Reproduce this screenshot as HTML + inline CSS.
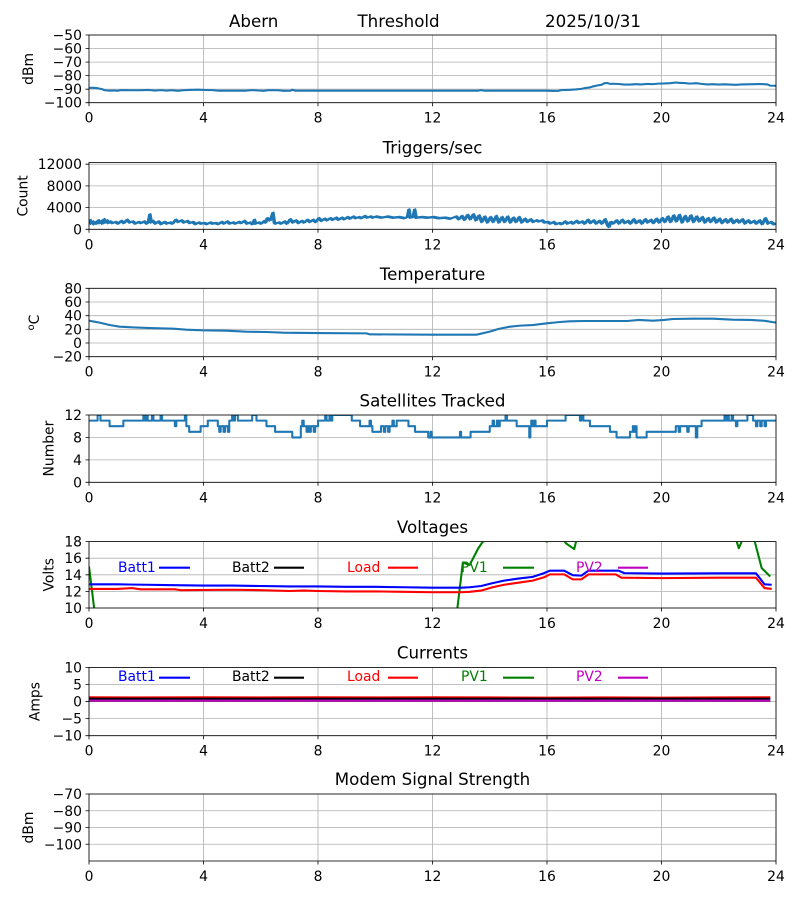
<!DOCTYPE html>
<html><head><meta charset="utf-8"><style>
html,body{margin:0;padding:0;background:#fff;}
svg{display:block;}
text{font-family:"DejaVu Sans","Liberation Sans",sans-serif;font-size:13.9px;fill:#000;}
.t{font-size:16.67px;}
.yl text{text-anchor:end;}
.xl text{text-anchor:middle;}
.g{stroke:#b0b0b0;stroke-width:0.8;fill:none;}
.sp{stroke:#000;stroke-width:0.8;fill:none;}
.s{fill:none;stroke-width:2.08;stroke-linejoin:round;}
</style></head><body>
<svg width="800" height="900" viewBox="0 0 800 900" xmlns="http://www.w3.org/2000/svg" xmlns:xlink="http://www.w3.org/1999/xlink">
<defs>
<clipPath id="c1"><rect x="89" y="35" width="687" height="67.7"/></clipPath>
<clipPath id="c2"><rect x="89" y="162.5" width="687" height="66.8"/></clipPath>
<clipPath id="c3"><rect x="89" y="288.3" width="687" height="68.4"/></clipPath>
<clipPath id="c4"><rect x="89" y="415" width="687" height="67.3"/></clipPath>
<clipPath id="c5"><rect x="89" y="541.6" width="687" height="66.4"/></clipPath>
<clipPath id="c6"><rect x="89" y="667.4" width="687" height="68.3"/></clipPath>
</defs>
<rect width="800" height="900" fill="#fff"/>

<!-- Main title -->
<text class="t" x="229" y="27">Abern</text>
<text class="t" x="357.5" y="27">Threshold</text>
<text class="t" x="545" y="27">2025/10/31</text>

<!-- ================= Panel 1 ================= -->
<path class="g" d="M89 35V102.7M203.5 35V102.7M318 35V102.7M432.5 35V102.7M547 35V102.7M661.5 35V102.7M776 35V102.7M89 35H776M89 48.5H776M89 62.1H776M89 75.6H776M89 89.2H776M89 102.7H776"/>
<g clip-path="url(#c1)"><g transform="matrix(28.625 0 0 -1.354 89 -32.7)">
<polyline class="s" stroke="#1f77b4" vector-effect="non-scaling-stroke" points="0,-89 0.15,-89 0.3,-89.3 0.45,-90 0.55,-90.8 0.7,-91.1 0.9,-91 1.0,-91.2 1.1,-90.7 1.4,-90.8 1.8,-90.8 2.1,-90.6 2.3,-91.1 2.5,-90.7 2.7,-91.1 2.9,-90.8 3.1,-91.2 3.3,-90.8 3.5,-90.6 3.8,-90.4 4,-90.6 4.3,-90.7 4.5,-91.1 5,-91.1 5.5,-91.1 5.7,-90.7 5.9,-91 6.1,-91.2 6.3,-90.7 6.6,-90.8 6.8,-91.2 7.05,-91.1 7.1,-90.4 7.2,-91.1 8,-91.1 9,-91.1 10,-91.1 11,-91.1 12,-91.1 13,-91.1 13.6,-91.1 13.7,-90.7 13.8,-91.1 15,-91.1 16,-91.1 16.2,-91.3 16.4,-91.2 16.5,-90.7 16.8,-90.5 17,-90.2 17.2,-89.8 17.3,-89.3 17.5,-88.7 17.6,-88 17.8,-87.1 17.9,-86.8 18.0,-85.7 18.1,-85.4 18.2,-86.1 18.3,-86 18.5,-86.2 18.7,-86.6 18.9,-86.6 19.1,-86.3 19.3,-86.5 19.5,-86.1 19.7,-86.3 19.9,-85.9 20.1,-85.8 20.3,-85.6 20.5,-85.1 20.6,-85.3 20.8,-85.5 21.0,-85.9 21.2,-85.6 21.4,-86.1 21.6,-86.5 21.8,-86.3 22.0,-86.6 22.2,-86.4 22.4,-86.6 22.6,-86.8 22.8,-86.5 23.0,-86.4 23.2,-86.3 23.5,-86.2 23.7,-86.5 23.8,-87.4 24,-87.5"/>
</g></g>
<rect class="sp" x="89" y="35" width="687" height="67.7"/>
<path class="sp" d="M85.5 35H89M85.5 48.5H89M85.5 62.1H89M85.5 75.6H89M85.5 89.2H89M85.5 102.7H89M89 102.7V106.2M203.5 102.7V106.2M318 102.7V106.2M432.5 102.7V106.2M547 102.7V106.2M661.5 102.7V106.2M776 102.7V106.2"/>
<g class="yl"><text x="82" y="40">−50</text><text x="82" y="53.5">−60</text><text x="82" y="67.1">−70</text><text x="82" y="80.6">−80</text><text x="82" y="94.2">−90</text><text x="82" y="107.7">−100</text></g>
<g class="xl"><text x="89" y="122.7">0</text><text x="203.5" y="122.7">4</text><text x="318" y="122.7">8</text><text x="432.5" y="122.7">12</text><text x="547" y="122.7">16</text><text x="661.5" y="122.7">20</text><text x="776" y="122.7">24</text></g>
<text transform="translate(33 68.9) rotate(-90)" text-anchor="middle">dBm</text>

<!-- ================= Panel 2 ================= -->
<text class="t" x="432.5" y="153.3" text-anchor="middle">Triggers/sec</text>
<path class="g" d="M89 162.5V229.3M203.5 162.5V229.3M318 162.5V229.3M432.5 162.5V229.3M547 162.5V229.3M661.5 162.5V229.3M776 162.5V229.3M89 229.3H776M89 207.6H776M89 185.9H776M89 164.2H776"/>
<g clip-path="url(#c2)"><g transform="matrix(28.625 0 0 -5.425 89 229.3)">
<polyline id="trg" class="s" stroke="#1f77b4" stroke-width="1.8" vector-effect="non-scaling-stroke" points="0,1.8 0.05,1.0 0.1,1.4 0.15,0.9 0.2,1.3 0.25,1.0 0.3,1.6 0.35,1.1 0.4,1.5 0.45,1.0 0.5,1.8 0.55,1.2 0.6,1.6 0.65,1.1 0.7,1.4 0.8,1.1 0.9,1.3 1.0,1.0 1.1,1.5 1.2,1.1 1.3,1.7 1.4,1.2 1.5,1.4 1.6,1.0 1.7,1.3 1.8,1.1 1.9,1.4 2.0,1.0 2.05,1.3 2.1,2.7 2.15,1.2 2.2,1.5 2.3,1.0 2.4,1.4 2.5,0.9 2.6,1.3 2.7,1.0 2.8,1.2 2.9,1.0 3.0,1.7 3.1,1.3 3.2,1.6 3.3,1.2 3.4,1.5 3.5,1.1 3.6,1.3 3.7,0.9 3.8,1.2 3.9,1.0 4.0,1.1 4.1,0.9 4.2,1.2 4.3,1.0 4.4,1.1 4.5,0.9 4.6,1.3 4.7,1.0 4.8,1.4 4.9,1.0 5.0,1.2 5.1,1.0 5.2,1.3 5.3,1.1 5.4,1.5 5.5,1.0 5.6,1.2 5.7,0.9 5.75,1.7 5.8,1.0 5.9,1.2 6.0,1.0 6.1,1.5 6.15,1.2 6.2,2.0 6.3,1.6 6.35,2.2 6.4,3.0 6.45,1.2 6.5,1.0 6.6,1.2 6.7,1.0 6.8,1.4 6.9,1.0 7.0,1.8 7.1,1.2 7.2,1.6 7.3,1.1 7.4,1.5 7.5,1.2 7.6,1.7 7.7,1.3 7.8,1.7 7.9,1.3 8.0,2.0 8.1,1.5 8.2,1.9 8.3,1.6 8.4,2.0 8.5,1.7 8.6,2.1 8.7,1.7 8.8,2.1 8.9,1.8 9.0,2.2 9.1,1.9 9.2,2.3 9.3,2.0 9.4,2.2 9.5,2.0 9.6,2.4 9.7,2.1 9.8,2.3 9.9,2.1 10.0,2.3 10.2,2.1 10.4,2.3 10.6,2.1 10.8,2.2 11.0,2.0 11.1,2.2 11.15,3.6 11.2,2.1 11.3,2.2 11.35,3.6 11.4,2.1 11.6,2.2 11.8,2.1 12.0,2.2 12.2,2.0 12.4,2.1 12.6,1.9 12.8,2.3 12.9,1.8 13.0,2.4 13.1,1.7 13.2,2.6 13.3,1.8 13.4,2.7 13.5,1.6 13.6,2.5 13.7,1.3 13.8,2.3 13.9,1.2 14.0,2.2 14.1,1.3 14.2,2.4 14.3,1.2 14.4,2.2 14.5,1.3 14.6,2.3 14.7,1.2 14.8,2.1 14.9,1.3 15.0,2.2 15.1,1.2 15.2,1.9 15.3,1.3 15.4,1.8 15.5,1.3 15.6,1.6 15.7,1.4 15.8,1.6 15.9,1.2 16.0,1.3 16.1,1.0 16.2,1.3 16.3,0.9 16.4,1.1 16.5,0.9 16.6,1.4 16.7,1.0 16.8,1.3 16.9,1.0 17.0,1.5 17.1,1.1 17.2,1.4 17.3,1.0 17.4,1.7 17.5,1.1 17.6,1.6 17.7,1.0 17.8,1.5 17.9,1.0 18.0,1.8 18.1,0.7 18.15,0.4 18.2,1.3 18.3,1.0 18.4,1.6 18.5,1.0 18.6,1.7 18.7,1.1 18.8,1.5 18.9,1.0 19.0,1.8 19.1,1.1 19.2,1.6 19.3,1.0 19.4,1.8 19.5,1.2 19.6,1.7 19.7,1.1 19.8,1.9 19.9,1.2 20.0,2.0 20.1,1.3 20.2,2.3 20.3,1.3 20.4,2.5 20.5,1.4 20.6,2.6 20.7,1.2 20.8,2.4 20.9,1.4 21.0,2.5 21.1,1.3 21.2,2.3 21.3,1.4 21.4,2.2 21.5,1.2 21.6,2.0 21.7,1.3 21.8,2.1 21.9,1.2 22.0,1.9 22.1,1.1 22.2,1.8 22.3,1.2 22.4,1.9 22.5,1.1 22.6,1.7 22.7,1.2 22.8,1.8 22.9,1.0 23.0,1.6 23.1,1.1 23.2,1.5 23.3,1.0 23.4,1.6 23.5,0.9 23.6,2.0 23.7,1.0 23.8,1.3 23.9,0.9 24,1.0"/>
<use xlink:href="#trg" href="#trg" transform="translate(0.05,0.1)"/>
</g></g>
<rect class="sp" x="89" y="162.5" width="687" height="66.8"/>
<path class="sp" d="M85.5 229.3H89M85.5 207.6H89M85.5 185.9H89M85.5 164.2H89M89 229.3V232.8M203.5 229.3V232.8M318 229.3V232.8M432.5 229.3V232.8M547 229.3V232.8M661.5 229.3V232.8M776 229.3V232.8"/>
<g class="yl"><text x="82" y="234.3">0</text><text x="82" y="212.6">4000</text><text x="82" y="190.9">8000</text><text x="82" y="169.2">12000</text></g>
<g class="xl"><text x="89" y="249.3">0</text><text x="203.5" y="249.3">4</text><text x="318" y="249.3">8</text><text x="432.5" y="249.3">12</text><text x="547" y="249.3">16</text><text x="661.5" y="249.3">20</text><text x="776" y="249.3">24</text></g>
<text transform="translate(27.3 195.9) rotate(-90)" text-anchor="middle">Count</text>

<!-- ================= Panel 3 ================= -->
<text class="t" x="432.5" y="280" text-anchor="middle">Temperature</text>
<path class="g" d="M89 288.3V356.7M203.5 288.3V356.7M318 288.3V356.7M432.5 288.3V356.7M547 288.3V356.7M661.5 288.3V356.7M776 288.3V356.7M89 356.7H776M89 343H776M89 329.3H776M89 315.7H776M89 302H776M89 288.3H776"/>
<g clip-path="url(#c3)"><g transform="matrix(28.625 0 0 -0.684 89 343.02)">
<polyline class="s" stroke="#1f77b4" vector-effect="non-scaling-stroke" points="0,32.7 0.37,29.8 0.72,26.3 1.07,23.9 1.55,22.9 2.13,21.9 2.94,21 3.4,19.5 3.98,18.5 4.8,18 5.5,16.6 6.2,16.1 6.8,15.1 8,14.6 9.7,14.1 9.8,12.7 12,12.2 13.54,12.2 14.0,16.6 14.3,20.5 14.7,23.9 15.07,25.4 15.5,26.3 16,28.8 16.45,30.7 16.8,31.7 17.3,32.2 18.8,32.2 19.2,33.7 19.7,32.7 20.1,33.7 20.4,35.1 21.1,35.6 21.8,35.6 22.5,34.1 23.1,33.7 23.6,32.5 24,29.8"/>
</g></g>
<rect class="sp" x="89" y="288.3" width="687" height="68.4"/>
<path class="sp" d="M85.5 356.7H89M85.5 343H89M85.5 329.3H89M85.5 315.7H89M85.5 302H89M85.5 288.3H89M89 356.7V360.2M203.5 356.7V360.2M318 356.7V360.2M432.5 356.7V360.2M547 356.7V360.2M661.5 356.7V360.2M776 356.7V360.2"/>
<g class="yl"><text x="82" y="361.7">−20</text><text x="82" y="348">0</text><text x="82" y="334.3">20</text><text x="82" y="320.7">40</text><text x="82" y="307">60</text><text x="82" y="293.3">80</text></g>
<g class="xl"><text x="89" y="376.7">0</text><text x="203.5" y="376.7">4</text><text x="318" y="376.7">8</text><text x="432.5" y="376.7">12</text><text x="547" y="376.7">16</text><text x="661.5" y="376.7">20</text><text x="776" y="376.7">24</text></g>
<text transform="translate(39 322.5) rotate(-90)" text-anchor="middle"><tspan font-size="9.7" dy="-5">o</tspan><tspan dy="5">C</tspan></text>

<!-- ================= Panel 4 ================= -->
<text class="t" x="432.5" y="406.3" text-anchor="middle">Satellites Tracked</text>
<path class="g" d="M89 415V482.3M203.5 415V482.3M318 415V482.3M432.5 415V482.3M547 415V482.3M661.5 415V482.3M776 415V482.3M89 482.3H776M89 459.9H776M89 437.4H776M89 415H776"/>
<g clip-path="url(#c4)"><g transform="matrix(28.625 0 0 -5.608 89 482.3)">
<path class="s" stroke="#1f77b4" vector-effect="non-scaling-stroke" d="M0,11 H0.3 V12 H0.4 V11 H0.72 V10 H1.2 V11 H1.9 V12 H1.95 V11 H2.0 V12 H2.05 V11 H2.2 V12 H2.25 V11 H2.5 V12 H2.55 V11 H3.0 V10 H3.05 V11 H3.35 V12 H3.4 V10 H3.5 V9 H3.9 V10 H4.15 V11 H4.5 V10 H4.55 V9 H4.6 V10 H4.7 V9 H4.75 V10 H4.85 V9 H4.9 V11 H5.0 V12 H5.05 V11 H5.1 V12 H5.2 V11 H5.7 V12 H5.85 V11 H6.2 V10 H6.5 V9 H7.1 V8 H7.4 V10 H7.45 V11 H7.5 V10 H7.6 V9 H7.65 V10 H7.7 V9 H7.75 V10 H7.85 V9 H7.9 V10 H8.0 V11 H8.25 V12 H8.3 V11 H8.4 V12 H8.45 V11 H8.5 V12 H9.18 V11 H9.47 V10 H9.8 V11 H9.85 V10 H9.9 V9 H10.2 V10 H10.3 V9 H10.35 V10 H10.45 V9 H10.5 V10 H10.6 V11 H10.65 V10 H10.75 V11 H11.16 V10 H11.39 V9 H11.85 V8 H11.93 V9 H11.97 V8 H12.96 V9 H13.0 V8 H13.33 V9 H14.0 V10 H14.1 V11 H14.15 V10 H14.25 V11 H14.3 V10 H14.35 V11 H14.55 V12 H14.6 V11 H14.94 V10 H15.38 V8 H15.42 V10 H15.45 V11 H15.5 V10 H15.55 V11 H15.6 V10 H16.0 V11 H16.65 V12 H17.15 V11 H17.2 V12 H17.27 V11 H17.5 V10 H18.2 V9 H18.43 V8 H18.9 V9 H19.0 V10 H19.05 V9 H19.1 V10 H19.13 V8 H19.48 V9 H20.5 V10 H20.6 V9 H20.65 V10 H20.9 V9 H20.95 V10 H21.2 V8 H21.25 V10 H21.4 V11 H22.2 V12 H22.25 V11 H22.3 V12 H22.35 V11 H22.45 V12 H22.5 V11 H22.6 V10 H22.65 V11 H23.0 V12 H23.2 V11 H23.3 V10 H23.35 V11 H23.45 V10 H23.5 V11 H23.6 V10 H23.65 V11 H24"/>
</g></g>
<rect class="sp" x="89" y="415" width="687" height="67.3"/>
<path class="sp" d="M85.5 482.3H89M85.5 459.9H89M85.5 437.4H89M85.5 415H89M89 482.3V485.8M203.5 482.3V485.8M318 482.3V485.8M432.5 482.3V485.8M547 482.3V485.8M661.5 482.3V485.8M776 482.3V485.8"/>
<g class="yl"><text x="82" y="487.3">0</text><text x="82" y="464.9">4</text><text x="82" y="442.4">8</text><text x="82" y="420">12</text></g>
<g class="xl"><text x="89" y="502.3">0</text><text x="203.5" y="502.3">4</text><text x="318" y="502.3">8</text><text x="432.5" y="502.3">12</text><text x="547" y="502.3">16</text><text x="661.5" y="502.3">20</text><text x="776" y="502.3">24</text></g>
<text transform="translate(53.5 448.6) rotate(-90)" text-anchor="middle">Number</text>

<!-- ================= Panel 5 ================= -->
<text class="t" x="432.5" y="532.8" text-anchor="middle">Voltages</text>
<path class="g" d="M89 541.6V608M203.5 541.6V608M318 541.6V608M432.5 541.6V608M547 541.6V608M661.5 541.6V608M776 541.6V608M89 608H776M89 591.4H776M89 574.8H776M89 558.2H776M89 541.6H776"/>
<g clip-path="url(#c5)"><g transform="matrix(28.625 0 0 -8.3 89 691)">
<polyline class="s" stroke="#008000" vector-effect="non-scaling-stroke" points="0,15 0.25,8"/>
<polyline class="s" stroke="#008000" vector-effect="non-scaling-stroke" points="12.8,8 13.06,15.46 13.3,15.2 13.6,17.2 13.76,18 14.2,18.5 15,19 15.8,18.2 16.0,18.0 16.2,18.4 16.55,18.3 16.66,17.8 16.95,17.1 17.05,18.5 18,19 22,19 22.6,18.3 22.7,17.2 22.85,18.4 23.25,18.1 23.5,14.8 23.8,13.8"/>
<polyline class="s" stroke="#ff0000" vector-effect="non-scaling-stroke" points="0,12.3 1,12.3 1.5,12.4 1.8,12.25 3,12.25 3.2,12.15 5,12.2 6,12.15 7,12.05 7.5,12.1 8,12.05 9,12.0 10,12.0 11,11.95 12,11.9 13,11.9 13.3,11.95 13.7,12.1 14.1,12.5 14.5,12.8 15,13.05 15.5,13.3 15.9,13.7 16.1,14.05 16.6,14.05 16.9,13.45 17.2,13.45 17.45,14.05 18.4,14.05 18.6,13.65 20,13.6 22,13.65 23.3,13.65 23.6,12.4 23.85,12.3"/>
<polyline class="s" stroke="#0000ff" vector-effect="non-scaling-stroke" points="0,12.85 1,12.85 2,12.8 3,12.75 4,12.7 5,12.7 6,12.65 7,12.6 8,12.6 9,12.55 10,12.55 11,12.5 12,12.45 13,12.45 13.3,12.5 13.7,12.65 14.1,13.0 14.5,13.3 15,13.55 15.5,13.75 15.9,14.2 16.1,14.5 16.6,14.5 16.9,13.95 17.2,13.9 17.45,14.5 18.5,14.5 18.7,14.2 20,14.15 22,14.18 23.3,14.18 23.6,12.85 23.85,12.8"/>
</g></g>
<rect class="sp" x="89" y="541.6" width="687" height="66.4"/>
<path class="sp" d="M85.5 608H89M85.5 591.4H89M85.5 574.8H89M85.5 558.2H89M85.5 541.6H89M89 608V611.5M203.5 608V611.5M318 608V611.5M432.5 608V611.5M547 608V611.5M661.5 608V611.5M776 608V611.5"/>
<g class="yl"><text x="82" y="613">10</text><text x="82" y="596.4">12</text><text x="82" y="579.8">14</text><text x="82" y="563.2">16</text><text x="82" y="546.6">18</text></g>
<g class="xl"><text x="89" y="628">0</text><text x="203.5" y="628">4</text><text x="318" y="628">8</text><text x="432.5" y="628">12</text><text x="547" y="628">16</text><text x="661.5" y="628">20</text><text x="776" y="628">24</text></g>
<text transform="translate(53.5 574.8) rotate(-90)" text-anchor="middle">Volts</text>
<!-- legend -->
<text x="118" y="572" style="fill:#0000ff">Batt1</text><path d="M159 567.7H190" stroke="#0000ff" stroke-width="2.08"/>
<text x="232" y="572" style="fill:#000">Batt2</text><path d="M274 567.7H304" stroke="#000" stroke-width="2.08"/>
<text x="347" y="572" style="fill:#ff0000">Load</text><path d="M388 567.7H418" stroke="#ff0000" stroke-width="2.08"/>
<text x="461" y="572" style="fill:#008000">PV1</text><path d="M503 567.7H534" stroke="#008000" stroke-width="2.08"/>
<text x="576" y="572" style="fill:#bf00bf">PV2</text><path d="M618 567.7H648" stroke="#bf00bf" stroke-width="2.08"/>

<!-- ================= Panel 6 ================= -->
<text class="t" x="432.5" y="658.6" text-anchor="middle">Currents</text>
<path class="g" d="M89 667.4V735.7M203.5 667.4V735.7M318 667.4V735.7M432.5 667.4V735.7M547 667.4V735.7M661.5 667.4V735.7M776 667.4V735.7M89 735.7H776M89 718.6H776M89 701.55H776M89 684.5H776M89 667.4H776"/>
<g clip-path="url(#c6)"><g transform="matrix(28.625 0 0 -3.415 89 701.55)">
<polyline class="s" stroke="#0000ff" vector-effect="non-scaling-stroke" points="0,0.8 23.8,0.8"/>
<polyline class="s" stroke="#008000" vector-effect="non-scaling-stroke" points="0,0.2 23.8,0.2"/>
<polyline class="s" stroke="#ff0000" vector-effect="non-scaling-stroke" points="0,1.25 2,1.2 4,1.25 6,1.2 8,1.25 10,1.2 12,1.25 14,1.2 16,1.15 18,1.2 20,1.15 22,1.2 23.8,1.25"/>
<polyline class="s" stroke="#000000" stroke-width="1.2" vector-effect="non-scaling-stroke" points="0,0.85 23.8,0.85"/>
<polyline class="s" stroke="#bf00bf" vector-effect="non-scaling-stroke" points="0,0.26 23.8,0.26"/>
</g></g>
<rect class="sp" x="89" y="667.4" width="687" height="68.3"/>
<path class="sp" d="M85.5 735.7H89M85.5 718.6H89M85.5 701.55H89M85.5 684.5H89M85.5 667.4H89M89 735.7V739.2M203.5 735.7V739.2M318 735.7V739.2M432.5 735.7V739.2M547 735.7V739.2M661.5 735.7V739.2M776 735.7V739.2"/>
<g class="yl"><text x="82" y="740.7">−10</text><text x="82" y="723.6">−5</text><text x="82" y="706.55">0</text><text x="82" y="689.5">5</text><text x="82" y="672.4">10</text></g>
<g class="xl"><text x="89" y="755.7">0</text><text x="203.5" y="755.7">4</text><text x="318" y="755.7">8</text><text x="432.5" y="755.7">12</text><text x="547" y="755.7">16</text><text x="661.5" y="755.7">20</text><text x="776" y="755.7">24</text></g>
<text transform="translate(39.5 701.55) rotate(-90)" text-anchor="middle">Amps</text>
<!-- legend -->
<text x="118" y="681" style="fill:#0000ff">Batt1</text><path d="M159 677.7H190" stroke="#0000ff" stroke-width="2.08"/>
<text x="232" y="681" style="fill:#000">Batt2</text><path d="M274 677.7H304" stroke="#000" stroke-width="2.08"/>
<text x="347" y="681" style="fill:#ff0000">Load</text><path d="M388 677.7H418" stroke="#ff0000" stroke-width="2.08"/>
<text x="461" y="681" style="fill:#008000">PV1</text><path d="M503 677.7H534" stroke="#008000" stroke-width="2.08"/>
<text x="576" y="681" style="fill:#bf00bf">PV2</text><path d="M618 677.7H648" stroke="#bf00bf" stroke-width="2.08"/>

<!-- ================= Panel 7 ================= -->
<text class="t" x="432.5" y="785.2" text-anchor="middle">Modem Signal Strength</text>
<path class="g" d="M89 794V861M203.5 794V861M318 794V861M432.5 794V861M547 794V861M661.5 794V861M776 794V861M89 794H776M89 810.75H776M89 827.5H776M89 844.25H776"/>
<rect class="sp" x="89" y="794" width="687" height="67"/>
<path class="sp" d="M85.5 794H89M85.5 810.75H89M85.5 827.5H89M85.5 844.25H89M89 861V864.5M203.5 861V864.5M318 861V864.5M432.5 861V864.5M547 861V864.5M661.5 861V864.5M776 861V864.5"/>
<g class="yl"><text x="82" y="799">−70</text><text x="82" y="815.75">−80</text><text x="82" y="832.5">−90</text><text x="82" y="849.25">−100</text></g>
<g class="xl"><text x="89" y="881">0</text><text x="203.5" y="881">4</text><text x="318" y="881">8</text><text x="432.5" y="881">12</text><text x="547" y="881">16</text><text x="661.5" y="881">20</text><text x="776" y="881">24</text></g>
<text transform="translate(33 827.5) rotate(-90)" text-anchor="middle">dBm</text>
</svg>
</body></html>
